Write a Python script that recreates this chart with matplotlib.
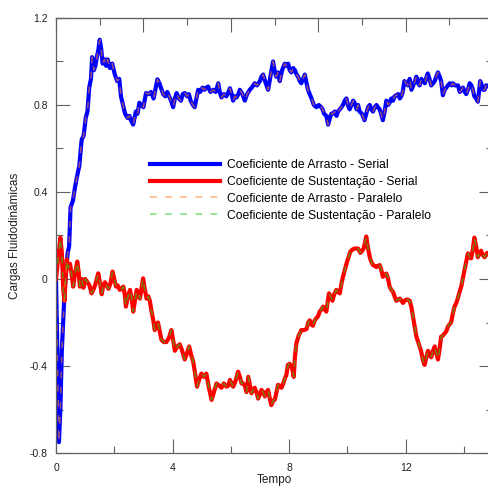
"""Cargas fluidodinamicas: serial vs paralelo."""
import matplotlib
matplotlib.use("Agg")
import numpy as np
from matplotlib import pyplot as plt
from matplotlib.ticker import MultipleLocator, FuncFormatter

# Coeficiente de arrasto (serial)
t_arrasto = [
    0.0, 0.05, 0.1, 0.15, 0.2, 0.3, 0.4, 0.45, 0.5, 0.58, 0.65, 0.72, 0.8,
    0.88, 0.95, 1.02, 1.08, 1.14, 1.2, 1.24, 1.3, 1.35, 1.4, 1.45, 1.5, 1.55,
    1.6, 1.66, 1.72, 1.77, 1.85, 1.93, 2.02, 2.1, 2.17, 2.23, 2.3, 2.37, 2.46,
    2.52, 2.57, 2.65, 2.74, 2.8, 2.86, 2.93, 3.0, 3.09, 3.18, 3.26, 3.35, 3.48,
    3.55, 3.6, 3.68, 3.75, 3.82, 3.88, 3.95, 4.02, 4.08, 4.14, 4.22, 4.29,
    4.35, 4.42, 4.5, 4.56, 4.62, 4.7, 4.76, 4.82, 4.88, 4.95, 5.03, 5.1, 5.16,
    5.22, 5.3, 5.4, 5.48, 5.57, 5.62, 5.68, 5.76, 5.85, 5.92, 5.97, 6.03,
    6.08, 6.14, 6.2, 6.26, 6.31, 6.4, 6.48, 6.56, 6.65, 6.72, 6.82, 6.9, 7.0,
    7.05, 7.11, 7.2, 7.28, 7.36, 7.45, 7.5, 7.56, 7.62, 7.68, 7.76, 7.85,
    7.92, 7.97, 8.02, 8.08, 8.14, 8.2, 8.26, 8.31, 8.37, 8.42, 8.48, 8.54,
    8.6, 8.65, 8.71, 8.77, 8.85, 8.94, 9.02, 9.1, 9.15, 9.2, 9.28, 9.34, 9.4,
    9.45, 9.51, 9.57, 9.63, 9.68, 9.74, 9.8, 9.85, 9.91, 9.97, 10.02, 10.08,
    10.14, 10.2, 10.25, 10.32, 10.37, 10.42, 10.5, 10.59, 10.65, 10.71,
    10.77, 10.82, 10.88, 10.94, 11.0, 11.05, 11.11, 11.16, 11.22, 11.28,
    11.34, 11.4, 11.45, 11.51, 11.57, 11.62, 11.68, 11.75, 11.8, 11.85, 11.9,
    11.96, 12.02, 12.08, 12.14, 12.2, 12.26, 12.32, 12.37, 12.43, 12.48,
    12.54, 12.6, 12.66, 12.72, 12.76, 12.82, 12.88, 12.94, 13.0, 13.05,
    13.11, 13.17, 13.22, 13.28, 13.34, 13.4, 13.45, 13.52, 13.58, 13.62,
    13.7, 13.8, 13.86, 13.92, 13.97, 14.03, 14.08, 14.14, 14.2, 14.26, 14.31,
    14.36, 14.42, 14.48, 14.52, 14.56, 14.62, 14.66, 14.71, 14.76, 14.8,
    14.9, 15.0,
]
cd_serial = [
    0.0, -0.35, -0.75, -0.6, -0.33, -0.04, 0.12, 0.15, 0.33, 0.36, 0.42, 0.47,
    0.52, 0.64, 0.66, 0.74, 0.77, 0.88, 0.92, 1.02, 0.96, 0.98, 1.02, 1.05,
    1.10, 1.06, 0.99, 1.01, 0.98, 1.01, 0.97, 0.99, 0.94, 0.91, 0.92, 0.84,
    0.80, 0.76, 0.74, 0.75, 0.73, 0.71, 0.77, 0.76, 0.81, 0.80, 0.79, 0.855,
    0.85, 0.86, 0.83, 0.918, 0.90, 0.88, 0.85, 0.84, 0.86, 0.84, 0.82, 0.79,
    0.83, 0.855, 0.83, 0.82, 0.85, 0.855, 0.84, 0.85, 0.82, 0.80, 0.79, 0.83,
    0.87, 0.86, 0.88, 0.87, 0.88, 0.885, 0.86, 0.87, 0.86, 0.90, 0.86, 0.835,
    0.85, 0.84, 0.86, 0.877, 0.85, 0.82, 0.84, 0.835, 0.85, 0.87, 0.85, 0.82,
    0.85, 0.87, 0.88, 0.90, 0.89, 0.91, 0.93, 0.94, 0.90, 0.87, 0.93, 1.0,
    0.96, 0.93, 0.95, 0.91, 0.96, 0.99, 0.98, 0.99, 0.96, 0.95, 0.97, 0.96,
    0.94, 0.93, 0.91, 0.90, 0.92, 0.94, 0.90, 0.87, 0.85, 0.83, 0.80, 0.79,
    0.80, 0.79, 0.78, 0.76, 0.75, 0.71, 0.74, 0.76, 0.76, 0.77, 0.75, 0.77,
    0.78, 0.79, 0.80, 0.82, 0.83, 0.80, 0.78, 0.80, 0.82, 0.81, 0.78, 0.80,
    0.77, 0.76, 0.73, 0.76, 0.79, 0.80, 0.78, 0.77, 0.79, 0.80, 0.79, 0.78,
    0.76, 0.73, 0.77, 0.82, 0.80, 0.81, 0.83, 0.82, 0.84, 0.845, 0.85, 0.83,
    0.84, 0.86, 0.91, 0.90, 0.89, 0.92, 0.87, 0.89, 0.91, 0.93, 0.90, 0.89,
    0.92, 0.91, 0.90, 0.93, 0.945, 0.92, 0.89, 0.90, 0.91, 0.93, 0.95, 0.93,
    0.91, 0.845, 0.87, 0.88, 0.89, 0.90, 0.89, 0.90, 0.89, 0.89, 0.86, 0.87,
    0.88, 0.86, 0.85, 0.87, 0.90, 0.89, 0.87, 0.84, 0.83, 0.815, 0.86, 0.91,
    0.89, 0.87, 0.87, 0.89, 0.89, 0.88, 0.89,
]

# Coeficiente de sustentacao (serial)
t_sustentacao = [
    0.0, 0.08, 0.15, 0.2, 0.25, 0.29, 0.33, 0.37, 0.42, 0.48, 0.53, 0.59,
    0.65, 0.73, 0.78, 0.82, 0.88, 0.94, 1.0, 1.08, 1.15, 1.22, 1.28, 1.34,
    1.4, 1.45, 1.5, 1.57, 1.62, 1.68, 1.74, 1.8, 1.87, 1.94, 2.0, 2.06, 2.12,
    2.19, 2.25, 2.31, 2.36, 2.4, 2.47, 2.54, 2.6, 2.65, 2.71, 2.77, 2.83,
    2.88, 2.94, 2.99, 3.05, 3.11, 3.17, 3.22, 3.28, 3.34, 3.39, 3.45, 3.5,
    3.56, 3.62, 3.7, 3.79, 3.88, 3.96, 4.02, 4.08, 4.16, 4.25, 4.33, 4.42,
    4.5, 4.57, 4.64, 4.71, 4.78, 4.84, 4.92, 4.99, 5.08, 5.16, 5.25, 5.34,
    5.42, 5.51, 5.6, 5.68, 5.76, 5.85, 5.92, 5.97, 6.03, 6.08, 6.16, 6.25,
    6.31, 6.37, 6.42, 6.48, 6.54, 6.6, 6.66, 6.71, 6.77, 6.82, 6.88, 6.94,
    7.0, 7.05, 7.11, 7.17, 7.22, 7.28, 7.34, 7.39, 7.45, 7.51, 7.57, 7.62,
    7.68, 7.74, 7.8, 7.85, 7.91, 7.96, 8.02, 8.08, 8.12, 8.16, 8.2, 8.25,
    8.33, 8.42, 8.5, 8.6, 8.66, 8.71, 8.77, 8.82, 8.88, 8.94, 9.0, 9.05,
    9.11, 9.17, 9.22, 9.28, 9.33, 9.37, 9.43, 9.49, 9.55, 9.62, 9.68, 9.74,
    9.8, 9.85, 9.91, 9.97, 10.04, 10.1, 10.17, 10.25, 10.31, 10.37, 10.45,
    10.51, 10.56, 10.61, 10.65, 10.7, 10.77, 10.82, 10.88, 10.94, 11.0,
    11.05, 11.11, 11.17, 11.22, 11.28, 11.34, 11.4, 11.45, 11.51, 11.57,
    11.62, 11.68, 11.74, 11.8, 11.86, 11.91, 11.97, 12.02, 12.08, 12.14,
    12.2, 12.25, 12.31, 12.37, 12.43, 12.48, 12.53, 12.57, 12.61, 12.65,
    12.71, 12.77, 12.82, 12.88, 12.94, 13.0, 13.05, 13.11, 13.17, 13.22,
    13.28, 13.34, 13.4, 13.45, 13.5, 13.56, 13.62, 13.68, 13.74, 13.79,
    13.85, 13.91, 13.96, 14.02, 14.08, 14.14, 14.2, 14.25, 14.3, 14.36,
    14.42, 14.48, 14.54, 14.59, 14.65, 14.71, 14.76, 14.8, 14.9, 15.0,
]
cl_serial = [
    0.0, 0.1, 0.19, 0.12, -0.05, -0.1, 0.0, 0.09, 0.05, 0.07, 0.03, -0.035,
    0.02, 0.08, 0.03, -0.035, 0.0, -0.04, 0.0, -0.015, -0.03, -0.066, -0.05,
    -0.03, 0.0, 0.026, -0.01, -0.07, -0.03, -0.015, -0.03, -0.045, -0.02,
    0.034, 0.0, -0.035, -0.03, -0.05, -0.045, -0.035, -0.07, -0.127, -0.08,
    -0.05, -0.09, -0.15, -0.1, -0.05, -0.07, -0.09, -0.04, 0.003, -0.05,
    -0.09, -0.08, -0.1, -0.15, -0.19, -0.235, -0.21, -0.2, -0.24, -0.28,
    -0.29, -0.29, -0.27, -0.235, -0.28, -0.33, -0.31, -0.30, -0.33, -0.37,
    -0.34, -0.31, -0.35, -0.38, -0.44, -0.495, -0.46, -0.435, -0.45, -0.435,
    -0.50, -0.556, -0.52, -0.48, -0.49, -0.50, -0.48, -0.495, -0.49, -0.464,
    -0.48, -0.495, -0.47, -0.426, -0.45, -0.48, -0.48, -0.49, -0.52, -0.45,
    -0.49, -0.525, -0.51, -0.50, -0.52, -0.55, -0.53, -0.51, -0.52, -0.54,
    -0.52, -0.51, -0.55, -0.58, -0.56, -0.555, -0.52, -0.487, -0.49, -0.50,
    -0.48, -0.46, -0.44, -0.395, -0.39, -0.40, -0.42, -0.45, -0.36, -0.296,
    -0.26, -0.235, -0.235, -0.23, -0.20, -0.19, -0.21, -0.215, -0.19, -0.18,
    -0.17, -0.15, -0.14, -0.127, -0.14, -0.15, -0.10, -0.066, -0.08, -0.10,
    -0.07, -0.05, -0.06, -0.066, -0.02, 0.01, 0.04, 0.07, 0.10, 0.125, 0.135,
    0.14, 0.14, 0.14, 0.12, 0.13, 0.14, 0.17, 0.195, 0.15, 0.10, 0.08, 0.064,
    0.06, 0.055, 0.06, 0.064, 0.04, 0.01, 0.02, 0.025, 0.0, -0.035, -0.05,
    -0.06, -0.08, -0.1, -0.095, -0.09, -0.10, -0.11, -0.10, -0.095, -0.095,
    -0.1, -0.13, -0.17, -0.22, -0.265, -0.29, -0.31, -0.33, -0.357, -0.38,
    -0.395, -0.36, -0.33, -0.35, -0.36, -0.33, -0.31, -0.34, -0.37, -0.32,
    -0.265, -0.26, -0.25, -0.24, -0.22, -0.21, -0.2, -0.16, -0.127, -0.11,
    -0.09, -0.06, -0.035, 0.0, 0.04, 0.08, 0.118, 0.10, 0.095, 0.13, 0.19,
    0.15, 0.10, 0.12, 0.13, 0.11, 0.10, 0.11, 0.12, 0.11, 0.12,
]

# paralelo coincide com o serial na figura
cd_paralelo = list(cd_serial)
cl_paralelo = list(cl_serial)

legendas = [
    "Coeficiente de Arrasto - Serial",
    "Coeficiente de Sustentação - Serial",
    "Coeficiente de Arrasto - Paralelo",
    "Coeficiente de Sustentação - Paralelo",
]

plt.rcParams["font.family"] = ["Liberation Sans", "DejaVu Sans"]
plt.rcParams["axes.unicode_minus"] = False

W, H = 488, 486
fig = plt.figure(figsize=(W / 100, H / 100), dpi=100)
# eixo direito fica um pouco fora da imagem, como no original
ax = fig.add_axes([56 / W, 33 / H, 437 / W, 435 / H])

ax.plot(t_arrasto, cd_serial, color="#0000FF", lw=3.0, label=legendas[0])
ax.plot(t_sustentacao, cl_serial, color="#FF0000", lw=3.0, label=legendas[1])
ax.plot(t_arrasto, cd_paralelo, color="#FF7F20", lw=1.1, alpha=0.6,
        ls=(0, (4.4, 5.5)), label=legendas[2])
ax.plot(t_sustentacao, cl_paralelo, color="#20D020", lw=1.1, alpha=0.6,
        ls=(0, (4.4, 5.5)), label=legendas[3])

ax.set_xlim(0, 15)
ax.set_ylim(-0.8, 1.2)

cinza = "#606060"
for s in ax.spines.values():
    s.set_color(cinza)
    s.set_linewidth(0.9)

ax.xaxis.set_major_locator(MultipleLocator(4))
ax.xaxis.set_minor_locator(MultipleLocator(2))
ax.yaxis.set_major_locator(MultipleLocator(0.4))
ax.yaxis.set_minor_locator(MultipleLocator(0.2))
ax.yaxis.set_major_formatter(FuncFormatter(lambda v, p: f"{v:g}"))
ax.tick_params(which="both", direction="in", color=cinza, width=0.8,
               right=True, labelsize=7.5, labelcolor="#202020")
ax.tick_params(axis="x", which="major", length=10, pad=7)
ax.tick_params(axis="y", which="major", length=10, pad=6)
ax.tick_params(which="minor", length=5)

# eixo superior com divisao propria (sem rotulos)
topo = ax.secondary_xaxis("top")
topo.xaxis.set_major_locator(MultipleLocator(3))
topo.xaxis.set_minor_locator(MultipleLocator(1.5))
topo.tick_params(which="both", direction="in", color=cinza, width=0.8,
                 labeltop=False)
topo.tick_params(which="major", length=10)
topo.tick_params(which="minor", length=5)
topo.spines["top"].set_color(cinza)

ax.set_xlabel("Tempo", fontsize=8.5, labelpad=1, color="#202020")
ax.set_ylabel("Cargas Fluidodinâmicas", fontsize=8.5, labelpad=6,
              color="#202020")

ax.legend(loc="upper left", bbox_to_anchor=(150 / W, 1 - 159 / H),
          bbox_transform=fig.transFigure, frameon=False, fontsize=8.7,
          handlelength=5.8, handletextpad=0.55, labelspacing=0.4,
          borderpad=0, borderaxespad=0)

fig.savefig("out.png", dpi=100)
